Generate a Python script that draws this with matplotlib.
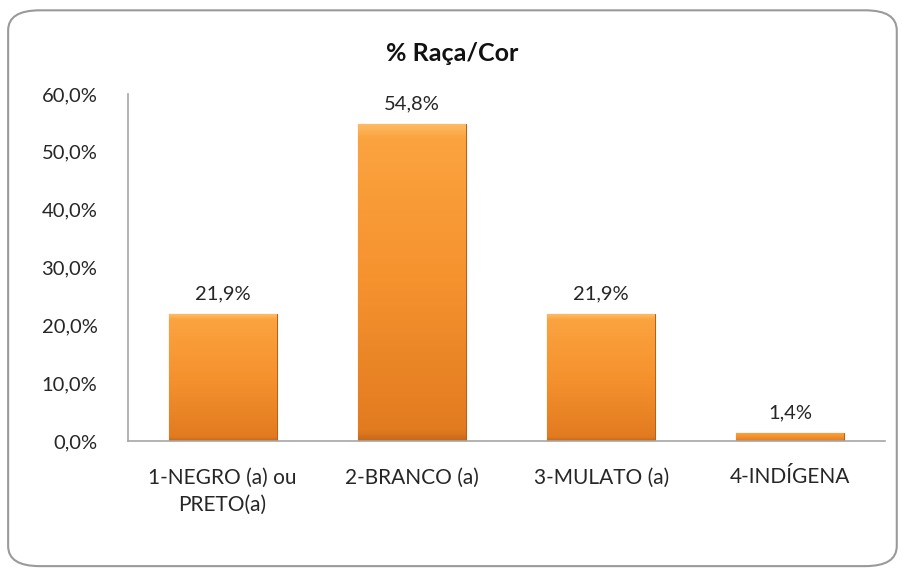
import numpy as np
import matplotlib
matplotlib.use('Agg')
import matplotlib.pyplot as plt
from matplotlib.patches import FancyBboxPatch
from matplotlib.colors import LinearSegmentedColormap

categories = ['1-NEGRO (a) ou\nPRETO(a)', '2-BRANCO (a)', '3-MULATO (a)', '4-INDÍGENA']
values = [21.9, 54.8, 21.9, 1.4]
yticks = [0, 10, 20, 30, 40, 50, 60]

plt.rcParams['font.family'] = ['Lato', 'DejaVu Sans']

fig = plt.figure(figsize=(9.04, 5.73), dpi=100)
ax = fig.add_axes([0.1416, 0.2304, 0.8374, 0.6056])

# rounded chart border
border = FancyBboxPatch((0.009, 0.012), 0.983, 0.97,
                        boxstyle='round,pad=0,rounding_size=0.035',
                        transform=fig.transFigure, facecolor='white',
                        edgecolor='#9a9a9a', linewidth=1.5, zorder=-10)
fig.patches.append(border)

x = np.arange(len(categories))
bars = ax.bar(x, values, width=0.57, color='#f28f2a', edgecolor='#b95f18',
              linewidth=0.8, zorder=2)

# vertical gradient inside each bar, light top -> darker bottom
cmap = LinearSegmentedColormap.from_list(
    'orng', [(0, '#fdba62'), (0.04, '#fba33f'), (0.5, '#f5922e'), (0.97, '#e27b20'), (1, '#c86a1b')])
grad = np.linspace(0, 1, 200).reshape(-1, 1)
for b in bars:
    x0, y0 = b.get_x(), b.get_y()
    w, h = b.get_width(), b.get_height()
    im = ax.imshow(grad, cmap=cmap, aspect='auto', extent=(x0, x0 + w, y0, y0 + h),
                   zorder=2.5)
    im.set_clip_path(b)

for xi, v in zip(x, values):
    ax.text(xi, v + 2.0, f'{v:.1f}%'.replace('.', ','), ha='center', va='bottom',
            fontsize=14.5, color='#262626')

ax.set_xlim(-0.5, len(categories) - 0.5)
ax.set_ylim(0, 60)
ax.set_yticks(yticks)
ax.set_yticklabels([f'{t:.1f}%'.replace('.', ',') for t in yticks], fontsize=14.5, color='#262626')
ax.set_xticks(x)
ax.set_xticklabels(categories, fontsize=15, color='#262626', linespacing=1.45)
ax.tick_params(axis='y', length=0, pad=22)
ax.tick_params(axis='x', length=0, pad=19)

for s in ['top', 'right']:
    ax.spines[s].set_visible(False)
for s in ['bottom', 'left']:
    ax.spines[s].set_color('#a6a6a6')
    ax.spines[s].set_linewidth(1.2)

fig.text(0.5, 0.907, '% Raça/Cor', ha='center', va='center', fontsize=18,
         fontweight='bold', color='#111111')

fig.savefig('out.png', dpi=100)
